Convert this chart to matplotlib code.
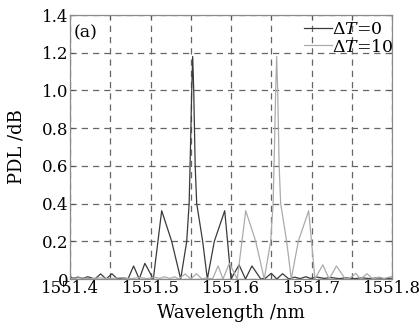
import matplotlib
matplotlib.use("Agg")
import matplotlib.pyplot as plt

plt.rcParams['font.family'] = ['DejaVu Serif']
plt.rcParams['mathtext.fontset'] = 'dejavuserif'

# Wavelength (nm) and PDL (dB)
wl_t0 = [1551.400, 1551.404, 1551.410, 1551.416, 1551.422, 1551.431, 1551.438,
         1551.445, 1551.452, 1551.459, 1551.466, 1551.472, 1551.479, 1551.486,
         1551.493, 1551.5035, 1551.5139, 1551.5263, 1551.5375, 1551.545, 1551.548,
         1551.5497, 1551.5512, 1551.5524, 1551.5537, 1551.5555, 1551.5574,
         1551.5648, 1551.5706, 1551.5793, 1551.5922, 1551.600, 1551.610, 1551.618,
         1551.626, 1551.637, 1551.643, 1551.650, 1551.657, 1551.664, 1551.672,
         1551.679, 1551.686, 1551.693, 1551.699, 1551.707, 1551.716, 1551.724,
         1551.734, 1551.743, 1551.753, 1551.763, 1551.773, 1551.782, 1551.791,
         1551.800]
pdl_t0 = [0.012, 0.004, 0.010, 0.003, 0.012, 0.000, 0.027,
          0.000, 0.028, 0.000, 0.006, 0.000, 0.069, 0.000,
          0.083, 0.000, 0.362, 0.200, 0.000, 0.200, 0.400,
          0.700, 1.000, 1.180, 1.000, 0.600, 0.400,
          0.200, 0.000, 0.200, 0.362, 0.000, 0.075, 0.000,
          0.069, 0.000, 0.005, 0.030, 0.000, 0.028, 0.000,
          0.010, 0.002, 0.012, 0.003, 0.010, 0.003, 0.008,
          0.002, 0.006, 0.002, 0.006, 0.002, 0.006, 0.002,
          0.005]

wl_t10 = [1551.400, 1551.412, 1551.425, 1551.437, 1551.450, 1551.462, 1551.475,
          1551.487, 1551.496, 1551.504, 1551.512, 1551.517, 1551.524, 1551.530,
          1551.535, 1551.543, 1551.550, 1551.557, 1551.564, 1551.570, 1551.577,
          1551.584, 1551.590, 1551.598, 1551.6078, 1551.6183, 1551.6307,
          1551.6413, 1551.6493, 1551.6523, 1551.6540, 1551.6555, 1551.6567,
          1551.6580, 1551.6598, 1551.6617, 1551.6691, 1551.6749, 1551.6836,
          1551.6965, 1551.7043, 1551.714, 1551.722, 1551.731, 1551.742, 1551.748,
          1551.755, 1551.761, 1551.769, 1551.776, 1551.784, 1551.790, 1551.798,
          1551.800]
pdl_t10 = [0.003, 0.006, 0.002, 0.006, 0.002, 0.007, 0.002,
           0.008, 0.002, 0.010, 0.003, 0.012, 0.003, 0.012,
           0.000, 0.027, 0.000, 0.028, 0.000, 0.006, 0.000,
           0.069, 0.000, 0.083, 0.000, 0.362, 0.200,
           0.000, 0.200, 0.400, 0.700, 1.000, 1.180,
           1.000, 0.600, 0.400, 0.200, 0.000, 0.200,
           0.362, 0.000, 0.075, 0.000, 0.069, 0.000, 0.005,
           0.030, 0.000, 0.028, 0.000, 0.010, 0.002, 0.012,
           0.008]

x_ticks = [1551.40, 1551.45, 1551.50, 1551.55, 1551.60, 1551.65, 1551.70, 1551.75, 1551.80]
x_labels = ['1551.4', '', '1551.5', '', '1551.6', '', '1551.7', '', '1551.8']
y_ticks = [0, 0.2, 0.4, 0.6, 0.8, 1.0, 1.2, 1.4]
y_labels = ['0', '0.2', '0.4', '0.6', '0.8', '1.0', '1.2', '1.4']

fig = plt.figure(figsize=(4.19, 3.28), dpi=100)
ax = fig.add_axes([70/419, 1-279/328, (392-70)/419, (279-15)/328])

ax.plot(wl_t0, pdl_t0, color='#3a3a3a', lw=0.9, label=r'$\Delta T$=0')
ax.plot(wl_t10, pdl_t10, color='#ababab', lw=0.9, label=r'$\Delta T$=10')

ax.set_xlim(1551.4, 1551.8)
ax.set_ylim(0, 1.4)
ax.set_xticks(x_ticks)
ax.set_xticklabels(x_labels)
ax.set_yticks(y_ticks)
ax.set_yticklabels(y_labels)
ax.grid(True, linestyle=(0, (5, 4)), color='#666666', lw=0.9)
ax.tick_params(direction='in', length=3, width=0.8, color='#555555',
               top=True, right=True, labelsize=12, pad=1)
for s in ax.spines.values():
    s.set_color('#8a8a8a')
    s.set_linewidth(0.9)

ax.set_xlabel('Wavelength /nm', fontsize=13, labelpad=5)
ax.set_ylabel('PDL /dB', fontsize=13, labelpad=12)

ax.text(0.012, 0.965, '(a)', transform=ax.transAxes, fontsize=12.5,
        va='top', ha='left')

leg = ax.legend(loc='upper right', bbox_to_anchor=(1.01, 0.985), frameon=False,
                fontsize=12.5, handlelength=1.6, handletextpad=0.0,
                borderpad=0.0, borderaxespad=0.1, labelspacing=0.05)

fig.savefig('out.png', dpi=100)
